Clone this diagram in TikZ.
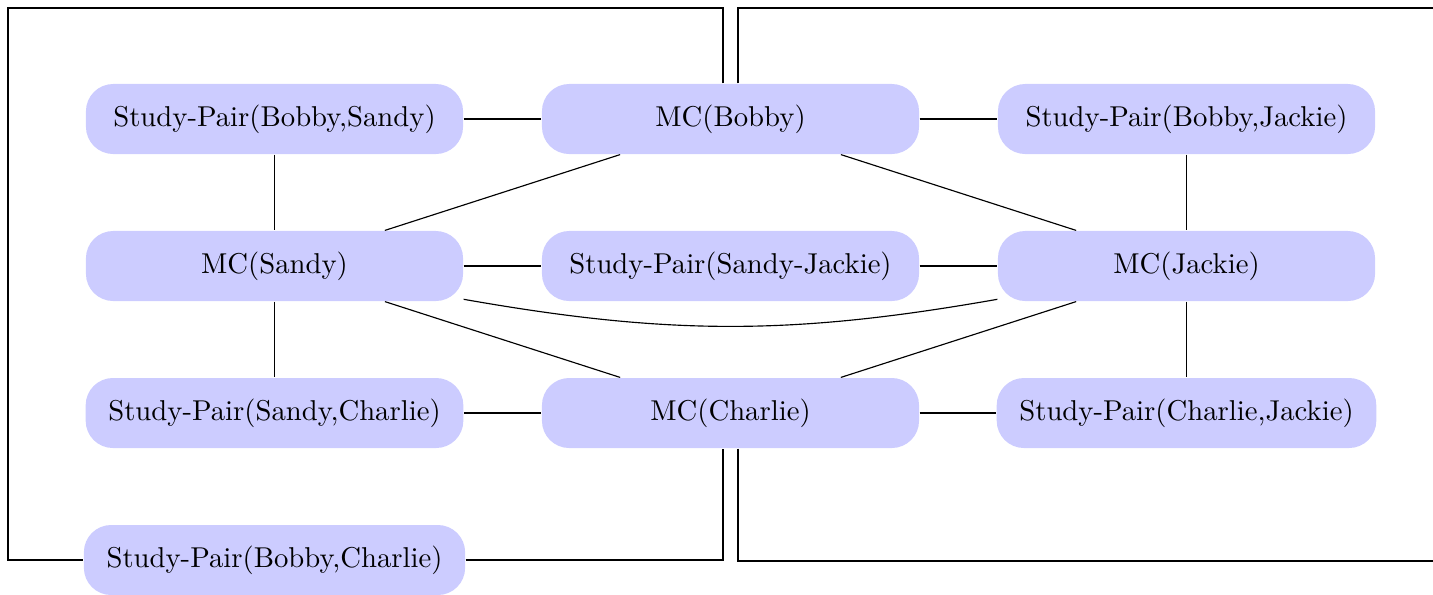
\documentclass[tikz,border=0pt]{standalone}
\begin{document}
\begin{tikzpicture}[x=0.34843pt,y=0.34843pt,
  box/.style={fill=blue!20, rounded corners=9.5pt, minimum width=131.4pt,
              minimum height=24.4pt, inner xsep=7.9pt, font=\normalsize},
  link/.style={draw=black, line width=0.4pt}]
\useasboundingbox (0,0) rectangle (1433,-594);

% grid of modules and study pairs
\node[box] (spbs) at (274.5,-119) {Study-Pair(Bobby,Sandy)};
\node[box] (mcb)  at (730.5,-119) {MC(Bobby)};
\node[box] (spbj) at (1186.5,-119) {Study-Pair(Bobby,Jackie)};
\node[box] (mcs)  at (274.5,-266) {MC(Sandy)};
\node[box] (spsj) at (730.5,-266) {Study-Pair(Sandy-Jackie)};
\node[box] (mcj)  at (1186.5,-266) {MC(Jackie)};
\node[box] (spsc) at (274.5,-413) {Study-Pair(Sandy,Charlie)};
\node[box] (mcc)  at (730.5,-413) {MC(Charlie)};
\node[box] (spcj) at (1186.5,-413) {Study-Pair(Charlie,Jackie)};
\node[box] (spbc) at (274.5,-560) {Study-Pair(Bobby,Charlie)};

% corner points of the wrap-around connectors
\coordinate (lt) at (8,-8);
\coordinate (rt) at (1445,-8);
\coordinate (rb) at (1445,-561);

% horizontal links
\draw[link] (spbs) -- (mcb);
\draw[link] (mcb) -- (spbj);
\draw[link] (mcs) -- (spsj);
\draw[link] (spsj) -- (mcj);
\draw[link] (spsc) -- (mcc);
\draw[link] (mcc) -- (spcj);

% vertical links
\draw[link] (spbs) -- (mcs);
\draw[link] (mcs) -- (spsc);
\draw[link] (spbj) -- (mcj);
\draw[link] (mcj) -- (spcj);

% links between modules
\draw[link] (mcb) -- (mcs);
\draw[link] (mcb) -- (mcj);
\draw[link] (mcs) -- (mcc);
\draw[link] (mcj) -- (mcc);
\draw[link] (mcs) to[bend right=10] (mcj);

% wrap-around connectors
\draw[link] ([xshift=-2.6pt]mcb.north) |- (lt) |- (spbc.west);
\draw[link] (spbc.east) -| ([xshift=-2.6pt]mcc.south);
\draw[link] ([xshift=2.6pt]mcb.north) |- (rt);
\draw[link] ([xshift=2.6pt]mcc.south) |- (rb);
\end{tikzpicture}
\end{document}
